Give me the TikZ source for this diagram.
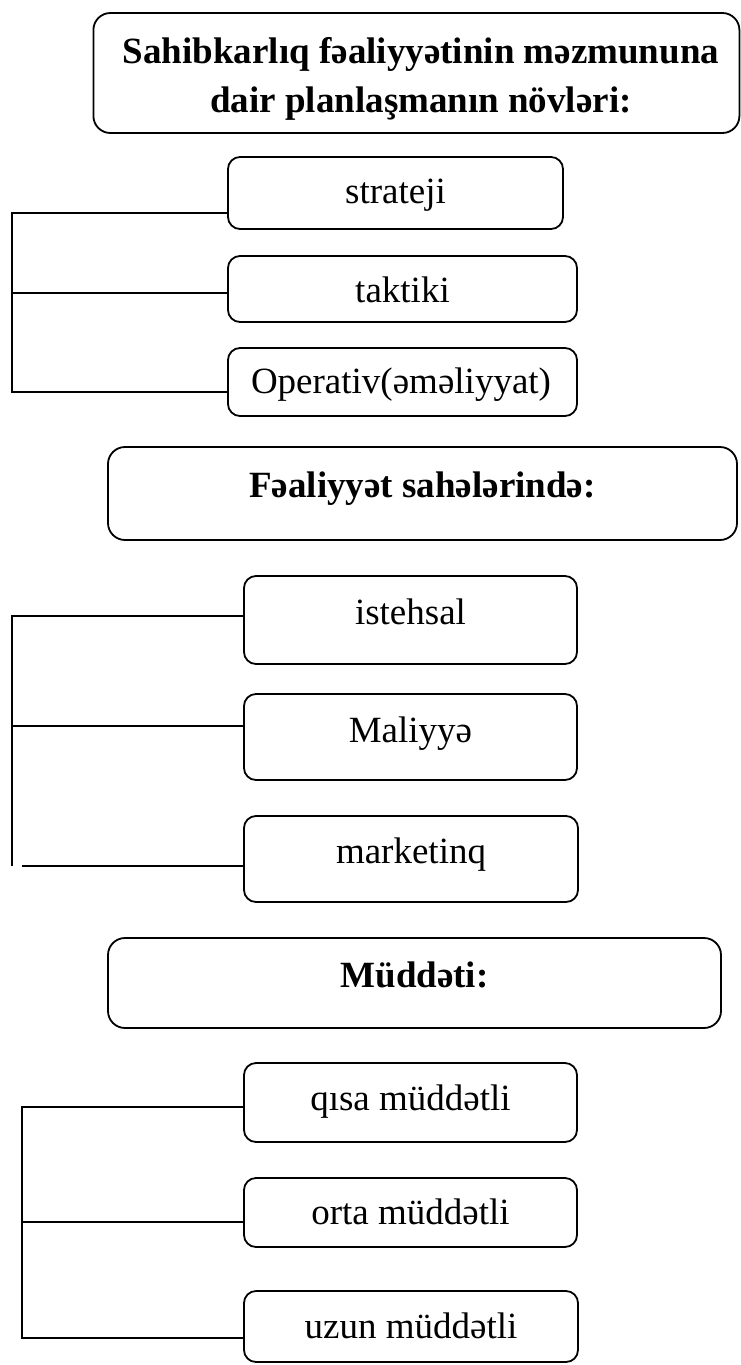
\documentclass[tikz,border=0pt]{standalone}
\usepackage{fontspec}
\setmainfont{Liberation Serif}
\begin{document}
\begin{tikzpicture}[x=1pt,y=-1pt,
  box/.style={draw, line width=1.8pt, rounded corners=12pt, inner sep=0pt},
  headbox/.style={box, rounded corners=17pt},
  itemtxt/.style={anchor=base, inner sep=0pt, font=\fontsize{37}{44}\selectfont},
  headtxt/.style={anchor=base, inner sep=0pt, font=\fontsize{37}{49}\selectfont\bfseries},
  conn/.style={line width=1.8pt}]
\useasboundingbox (0,0) rectangle (741,1365);

% ---------- section 1 ----------
\node[headbox, minimum width=646pt, minimum height=120pt] (h1) at (416.4,73) {};
\node[headtxt] (h1a) at (421,63) {Sahibkarlıq fəaliyyətinin məzmununa};
\node[headtxt] (h1b) at (421,112) {dair planlaşmanın növləri:};

\node[box, minimum width=335pt, minimum height=72pt] (s1) at (395.5,193) {};
\node[itemtxt] (s1t) at (395.5,203) {strateji};
\node[box, minimum width=349pt, minimum height=66pt] (s2) at (402.5,289) {};
\node[itemtxt] (s2t) at (402.5,302) {taktiki};
\node[box, minimum width=349pt, minimum height=68pt] (s3) at (402.5,382) {};
\node[itemtxt] (s3t) at (401,393) {Operativ(əməliyyat)};

\coordinate (b1a) at (12.3,213);
\coordinate (b1b) at (12.3,293);
\coordinate (b1c) at (12.3,392);
\draw[conn] (b1a -| s1.west) -- (b1a) -- (b1c) -- (b1c -| s3.west);
\draw[conn] (b1b) -- (b1b -| s2.west);

% ---------- section 2 ----------
\node[headbox, minimum width=629pt, minimum height=93pt] (h2) at (422.5,493.5) {};
\node[headtxt] (h2t) at (422.5,497) {Fəaliyyət sahələrində:};

\node[box, minimum width=333pt, minimum height=88pt] (f1) at (410.5,620) {};
\node[itemtxt] (f1t) at (410.5,624) {istehsal};
\node[box, minimum width=333pt, minimum height=86pt] (f2) at (410.5,737) {};
\node[itemtxt] (f2t) at (410.5,742) {Maliyyə};
\node[box, minimum width=334pt, minimum height=86pt] (f3) at (411,859) {};
\node[itemtxt] (f3t) at (411,863) {marketinq};

\coordinate (b2a) at (12.3,616);
\coordinate (b2b) at (12.3,725.7);
\coordinate (b2c) at (12.3,866);
\coordinate (b2d) at (22,865.7);
\draw[conn] (b2a -| f1.west) -- (b2a) -- (b2c);
\draw[conn] (b2b) -- (b2b -| f2.west);
\draw[conn] (b2d) -- (b2d -| f3.west);

% ---------- section 3 ----------
\node[headbox, minimum width=613pt, minimum height=90pt] (h3) at (414.5,983) {};
\node[headtxt] (h3t) at (414.5,987) {Müddəti:};

\node[box, minimum width=333pt, minimum height=79pt] (m1) at (410.5,1102.5) {};
\node[itemtxt] (m1t) at (410.5,1110) {qısa müddətli};
\node[box, minimum width=333pt, minimum height=69pt] (m2) at (410.5,1212.5) {};
\node[itemtxt] (m2t) at (410.5,1224) {orta müddətli};
\node[box, minimum width=334pt, minimum height=71pt] (m3) at (411,1326.5) {};
\node[itemtxt] (m3t) at (411,1338) {uzun müddətli};

\coordinate (b3a) at (22,1106.7);
\coordinate (b3b) at (22,1222);
\coordinate (b3c) at (22,1338);
\draw[conn] (b3a -| m1.west) -- (b3a) -- (b3c) -- (b3c -| m3.west);
\draw[conn] (b3b) -- (b3b -| m2.west);
\end{tikzpicture}
\end{document}
